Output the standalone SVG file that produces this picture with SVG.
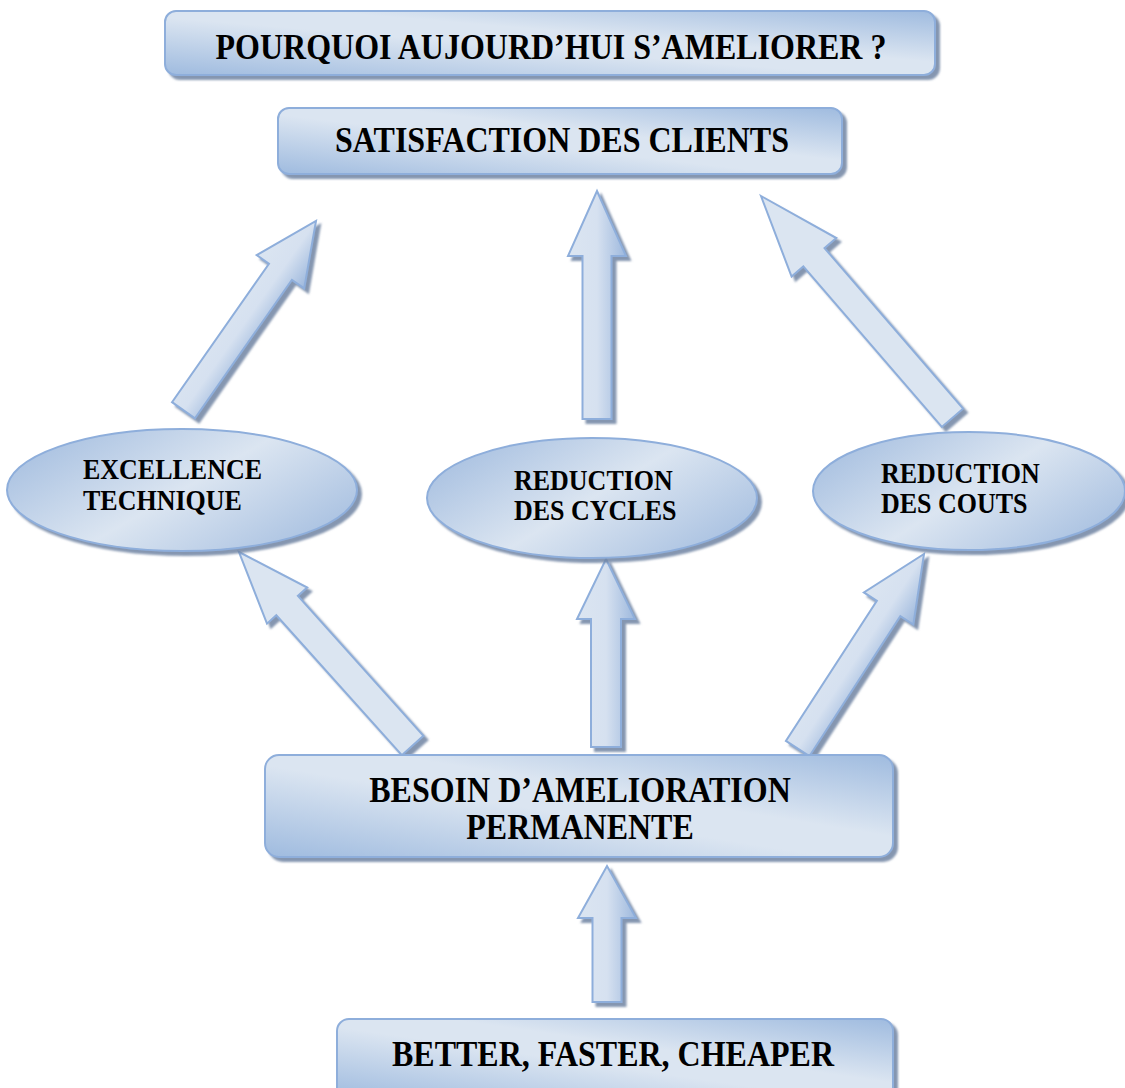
<svg xmlns="http://www.w3.org/2000/svg" width="1125" height="1088" viewBox="0 0 1125 1088">
<defs>
<linearGradient id="gBox" x1="0" y1="1" x2="1" y2="0">
<stop offset="0" stop-color="#9fbbdf"/>
<stop offset="0.45" stop-color="#dbe5f1"/>
<stop offset="0.6" stop-color="#dbe5f1"/>
<stop offset="1" stop-color="#9fbbdf"/>
</linearGradient>
<linearGradient id="gEll" x1="0" y1="0.2" x2="1" y2="0.8">
<stop offset="0" stop-color="#a6bfe0"/>
<stop offset="0.5" stop-color="#dbe5f1"/>
<stop offset="1" stop-color="#a6bfe0"/>
</linearGradient>
<linearGradient id="gArr" x1="0" y1="0" x2="1" y2="0">
<stop offset="0" stop-color="#dbe5f1"/>
<stop offset="0.5" stop-color="#d6e1f0"/>
<stop offset="1" stop-color="#9db8dd"/>
</linearGradient>
<filter id="sh" x="-10%" y="-10%" width="130%" height="130%">
<feDropShadow dx="4" dy="4" stdDeviation="0.8" flood-color="#6f84a3" flood-opacity="0.85"/>
</filter>
<style>
.box{fill:url(#gBox);stroke:#8eaedb;stroke-width:2}
.ell{fill:url(#gEll);stroke:#8eaedb;stroke-width:2}
.arr{fill:url(#gArr);stroke:#8eaedb;stroke-width:2;stroke-linejoin:miter}
.arrf{fill:#dbe5f1;stroke:#8eaedb;stroke-width:2;stroke-linejoin:miter}
.t{font-family:"Liberation Serif","Times New Roman",serif;font-weight:bold;fill:#000}
.big{font-size:32px;text-anchor:middle}
.sm{font-size:26px;text-anchor:start}
</style>
</defs>
<rect width="1125" height="1088" fill="#ffffff"/>

<g id="connectors">
<g filter="url(#sh)"><path class="arr" transform="translate(316,221) rotate(35)" d="M0,0 L29,62 L14,62 L14,231 L-14,231 L-14,62 L-29,62 Z"/></g>
<g filter="url(#sh)"><path class="arr" transform="translate(597,191)" d="M0,0 L29,65 L14.5,65 L14.5,228 L-14.5,228 L-14.5,65 L-29,65 Z"/></g>
<g filter="url(#sh)"><path class="arrf" transform="translate(761,196) rotate(-40.8)" d="M0,0 L29.5,81 L14,81 L14,293 L-14,293 L-14,81 L-29.5,81 Z"/></g>
<g filter="url(#sh)"><path class="arrf" transform="translate(239,552) rotate(-41.9)" d="M0,0 L27,72 L14.5,72 L14.5,260 L-14.5,260 L-14.5,72 L-27,72 Z"/></g>
<g filter="url(#sh)"><path class="arr" transform="translate(606,559)" d="M0,0 L29,60 L15,60 L15,188 L-15,188 L-15,60 L-29,60 Z"/></g>
<g filter="url(#sh)"><path class="arr" transform="translate(924,554) rotate(33)" d="M0,0 L29.5,65 L14,65 L14,232 L-14,232 L-14,65 L-29.5,65 Z"/></g>
<g filter="url(#sh)"><path class="arr" transform="translate(607,866)" d="M0,0 L29,52 L14.5,52 L14.5,136 L-14.5,136 L-14.5,52 L-29,52 Z"/></g>
</g>

<g id="n-title">
<rect class="box" x="165" y="11" width="770" height="64" rx="11" filter="url(#sh)"/>
<text class="t big" transform="translate(551 59) scale(1 1.15)">POURQUOI AUJOURD’HUI S’AMELIORER ?</text>
</g>

<g id="n-satisfaction">
<rect class="box" x="278" y="108" width="564" height="66" rx="11" filter="url(#sh)"/>
<text class="t big" transform="translate(562 152) scale(1 1.15)">SATISFACTION DES CLIENTS</text>
</g>

<g id="n-excellence">
<ellipse class="ell" cx="182" cy="490" rx="175" ry="61" filter="url(#sh)"/>
<text class="t sm" transform="translate(83 479) scale(1 1.15)">EXCELLENCE</text>
<text class="t sm" transform="translate(83 510) scale(1 1.15)">TECHNIQUE</text>
</g>

<g id="n-cycles">
<ellipse class="ell" cx="592" cy="498" rx="165" ry="60" filter="url(#sh)"/>
<text class="t sm" transform="translate(514 490) scale(1 1.15)">REDUCTION</text>
<text class="t sm" transform="translate(514 520) scale(1 1.15)">DES CYCLES</text>
</g>

<g id="n-couts">
<ellipse class="ell" cx="969" cy="491" rx="156" ry="59" filter="url(#sh)"/>
<text class="t sm" transform="translate(881 483) scale(1 1.15)">REDUCTION</text>
<text class="t sm" transform="translate(881 513) scale(1 1.15)">DES COUTS</text>
</g>

<g id="n-besoin">
<rect class="box" x="265" y="755" width="628" height="102" rx="14" filter="url(#sh)"/>
<text class="t big" transform="translate(580 802) scale(1 1.15)">BESOIN D’AMELIORATION</text>
<text class="t big" transform="translate(580 839) scale(1 1.15)">PERMANENTE</text>
</g>

<g id="n-better">
<rect class="box" x="337" y="1019" width="556" height="80" rx="12" filter="url(#sh)"/>
<text class="t big" transform="translate(613 1066) scale(1 1.15)">BETTER, FASTER, CHEAPER</text>
</g>
</svg>
